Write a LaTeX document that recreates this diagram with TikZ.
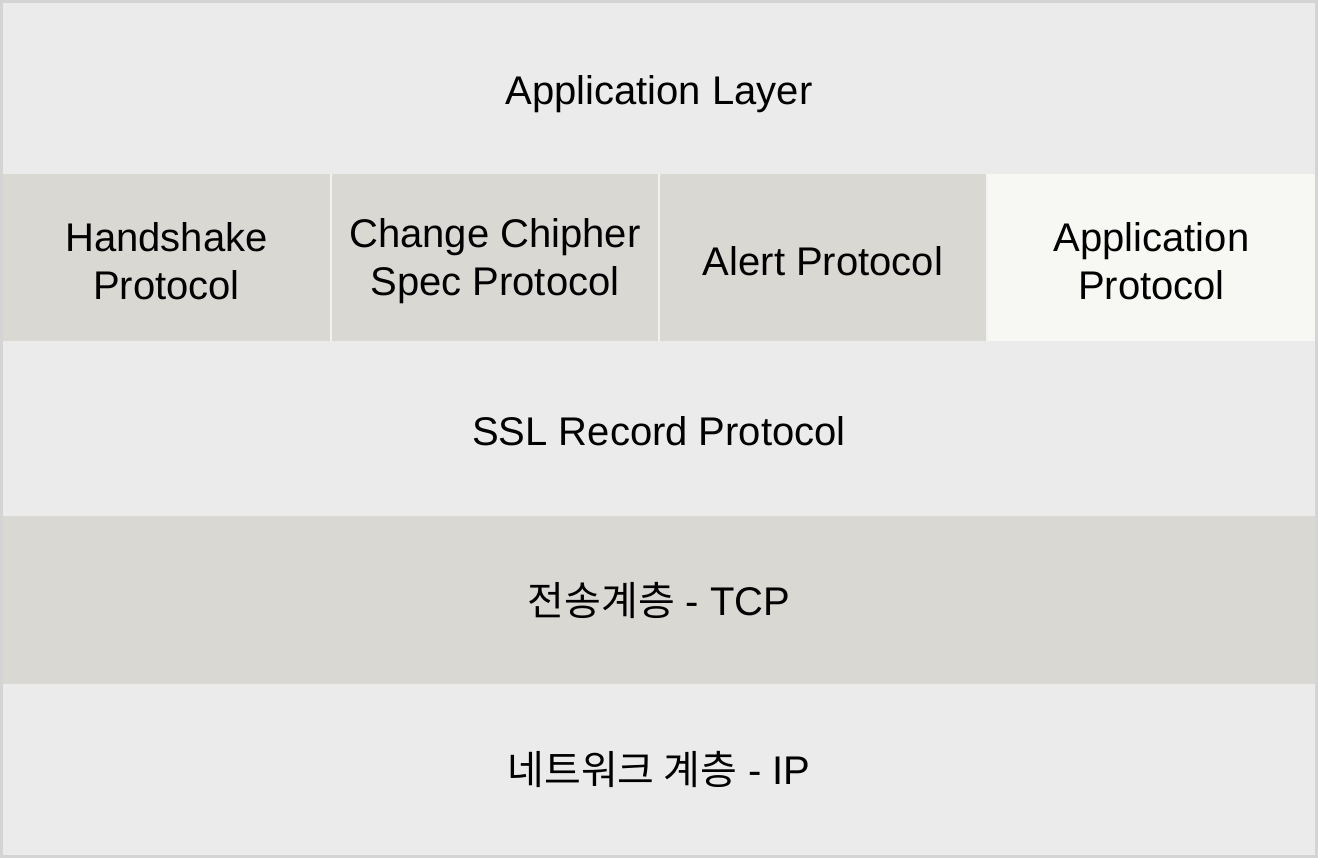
\documentclass[tikz,border=0pt]{standalone}
\usepackage{fontspec}
\setmainfont{Liberation Sans}
\newfontfamily\kr{Noto Sans CJK KR}
\definecolor{bordergray}{HTML}{D4D4D4}
\definecolor{lightcell}{HTML}{EBEBEB}
\definecolor{darkcell}{HTML}{D9D8D3}
\definecolor{palecell}{HTML}{F7F7F4}
\definecolor{sepline}{HTML}{F2F2F2}
\begin{document}
\begin{tikzpicture}[x=1pt,y=-1pt,
  cell/.style={rectangle, anchor=north west, inner sep=0pt, outer sep=0pt},
  txt/.style={inner sep=0pt, align=center, font=\fontsize{40}{48}\selectfont, text=black}]
\useasboundingbox (0,0) rectangle (1318,858);
\fill[bordergray] (0,0) rectangle (1318,858);
\fill[sepline] (3,174) rectangle (1315,341);
% cells
\node[cell, fill=lightcell, minimum width=1312pt, minimum height=171pt] (app) at (3,3) {};
\node[cell, fill=darkcell, minimum width=327pt, minimum height=167pt] (hs) at (3,174) {};
\node[cell, fill=darkcell, minimum width=326pt, minimum height=167pt] (ccs) at (332,174) {};
\node[cell, fill=darkcell, minimum width=326pt, minimum height=167pt] (alert) at (660,174) {};
\node[cell, fill=palecell, minimum width=327pt, minimum height=167pt] (appp) at (988,174) {};
\node[cell, fill=lightcell, minimum width=1312pt, minimum height=175pt] (ssl) at (3,341) {};
\node[cell, fill=darkcell, minimum width=1312pt, minimum height=168pt] (tcp) at (3,516) {};
\node[cell, fill=lightcell, minimum width=1312pt, minimum height=171pt] (ip) at (3,684) {};
% texts
\node[txt] (tapp) at ([yshift=-6pt]app.center) {Application Layer};
\node[txt] (ths) at ([yshift=-4pt]hs.center) {Handshake\\Protocol};
\node[txt] (tccs) at ([yshift=-4pt]ccs.center) {Change Chipher\\Spec Protocol};
\node[txt] (talert) at ([yshift=-4pt]alert.center) {Alert Protocol};
\node[txt] (tappp) at ([yshift=-4pt]appp.center) {Application\\Protocol};
\node[txt] (tssl) at ([yshift=-3pt]ssl.center) {SSL Record Protocol};
\node[txt] (ttcp) at (tcp.center) {{\kr 전송계층} - TCP};
\node[txt] (tip) at (ip.center) {{\kr 네트워크 계층} - IP};
\end{tikzpicture}
\end{document}
